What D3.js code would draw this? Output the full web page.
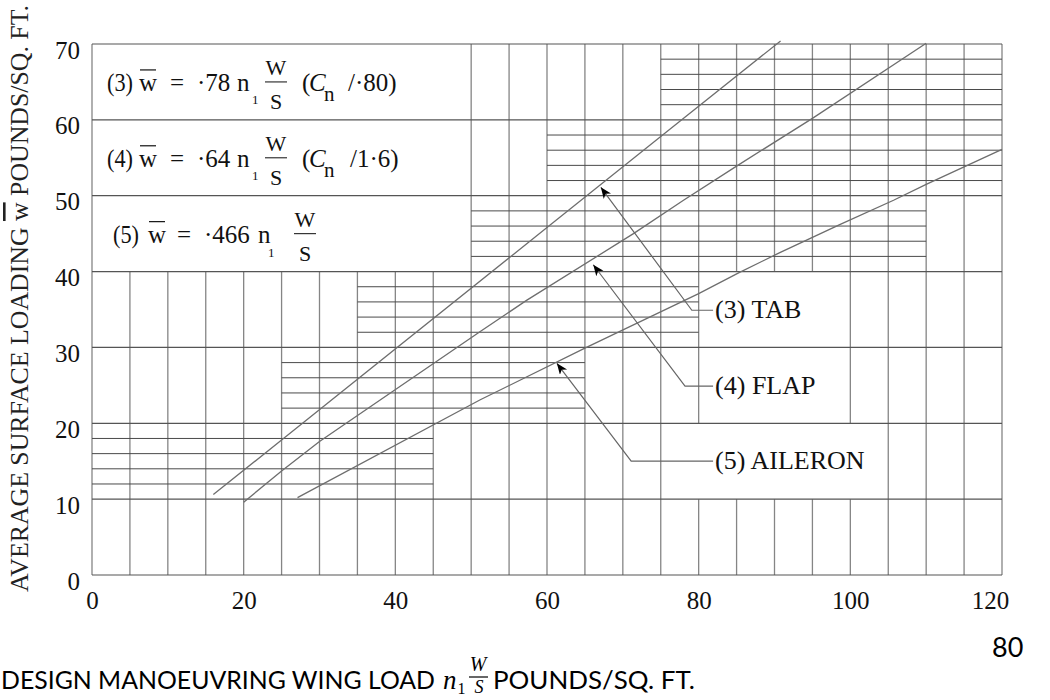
<!DOCTYPE html>
<html>
<head>
<meta charset="utf-8">
<script src="https://cdn.jsdelivr.net/npm/d3@7"></script>
<style>
  html, body { margin: 0; padding: 0; background: #ffffff; }
  svg { display: block; }
</style>
</head>
<body>
<svg id="chart" width="1050" height="700"></svg>
<script>
// ---------------- DATA ----------------
const xTickValues = [0, 20, 40, 60, 80, 100, 120];
const yTickValues = [0, 10, 20, 30, 40, 50, 60, 70];
const verticalGridStep = 5;
const hatchStep = 2;

// hatched blocks (horizontal sub-lines every 2 units)
const hatchX0 = [0, 25, 35, 50, 60, 75];
const hatchX1 = [45, 65, 80, 110, 120, 120];
const hatchY0 = [10, 20, 30, 40, 50, 60];

// blank boxes (no inner vertical grid lines): formula box and label boxes
const blankX0 = [0, 80, 80, 75];
const blankX1 = [50, 100, 100, 105];
const blankY0 = [40, 30, 20, 10];
const blankY1 = [70, 40, 30, 20];

// curves: [n1 W/S, w]
const tabCurve = [[16, 10.6], [25, 17.8], [60, 45.8], [75, 57.8], [90.8, 70.4]];
const flapCurve = [[20, 9.6], [25, 13.7], [30, 17.6], [51.2, 32.1], [57.3, 36.2], [71.4, 45.0], [78, 49.4], [85, 53.9], [95, 60.2], [110, 70.1]];
const aileronCurve = [[27.1, 10.2], [51.2, 23.1], [65, 29.9], [80, 37.1], [85.2, 39.8], [90.7, 42.5], [98.6, 46.2], [105.7, 49.4], [110, 51.5], [120, 56.1]];

// leader lines for labels
const leaderNames = ["(3) TAB", "(4) FLAP", "(5) AILERON"];
const leaderTab = [[67.1, 51.1], [79.1, 34.9], [81.9, 34.9]];
const leaderFlap = [[66.1, 40.9], [78.2, 24.9], [81.9, 24.9]];
const leaderAileron = [[61.3, 27.9], [71.1, 15.0], [81.9, 15.0]];

// ---------------- SETUP ----------------
const svg = d3.select("#chart");
const x = d3.scaleLinear().domain([0, 120]).range([92, 1002]);
const y = d3.scaleLinear().domain([0, 70]).range([575, 44]);

const serif = "'Liberation Serif', 'Times New Roman', serif";
const sans = "Lato, 'Open Sans', sans-serif";

// ---------------- GRID ----------------
const grid = svg.append("g");

// vertical lines, interrupted in blank boxes
const bands = d3.range(0, 70, 10);
const vSegs = [];
d3.range(0, 121, verticalGridStep).forEach(xv => {
  let start = null;
  bands.forEach(b => {
    const hidden = blankX0.some((bx0, k) =>
      xv > bx0 && xv < blankX1[k] && b >= blankY0[k] && b + 10 <= blankY1[k]);
    if (!hidden && start === null) start = b;
    if (hidden && start !== null) { vSegs.push({x: xv, y0: start, y1: b}); start = null; }
  });
  if (start !== null) vSegs.push({x: xv, y0: start, y1: 70});
});
grid.selectAll("line.v").data(vSegs).enter().append("line")
  .attr("class", "v")
  .attr("x1", d => x(d.x)).attr("x2", d => x(d.x))
  .attr("y1", d => y(d.y0)).attr("y2", d => y(d.y1))
  .attr("stroke", "#858585").attr("stroke-width", 1.3);

// sub lines in hatched blocks
const subSegs = [];
hatchY0.forEach((hy, i) => {
  d3.range(hy + hatchStep, hy + 10, hatchStep).forEach(yy => {
    subSegs.push({x0: hatchX0[i], x1: hatchX1[i], y: yy});
  });
});
grid.selectAll("line.s").data(subSegs).enter().append("line")
  .attr("class", "s")
  .attr("x1", d => x(d.x0)).attr("x2", d => x(d.x1))
  .attr("y1", d => y(d.y)).attr("y2", d => y(d.y))
  .attr("stroke", "#4a4a4a").attr("stroke-width", 1);

// major horizontal lines
grid.selectAll("line.h").data(yTickValues).enter().append("line")
  .attr("class", "h")
  .attr("x1", x(0)).attr("x2", x(120))
  .attr("y1", d => y(d)).attr("y2", d => y(d))
  .attr("stroke", "#555").attr("stroke-width", 1.2);

// ---------------- CURVES ----------------
const line = d3.line().x(d => x(d[0])).y(d => y(d[1]));
[tabCurve, flapCurve, aileronCurve].forEach(c => {
  svg.append("path").datum(c).attr("d", line)
    .attr("fill", "none").attr("stroke", "#6e6e6e").attr("stroke-width", 1.3);
});

// ---------------- LEADERS ----------------
const defs = svg.append("defs");
defs.append("marker").attr("id", "arr")
  .attr("markerUnits", "userSpaceOnUse")
  .attr("markerWidth", 14).attr("markerHeight", 12)
  .attr("refX", 11).attr("refY", 4.5)
  .attr("orient", "auto-start-reverse")
  .append("path").attr("d", "M0,0 L11,4.5 L0,9 L3,4.5 Z").attr("fill", "#000");

[leaderTab, leaderFlap, leaderAileron].forEach((pts, i) => {
  svg.append("path").datum(pts).attr("d", line)
    .attr("fill", "none").attr("stroke", "#666").attr("stroke-width", 1.2)
    .attr("marker-start", "url(#arr)");
  const end = pts[pts.length - 1];
  svg.append("text")
    .attr("x", x(end[0]) + 2).attr("y", y(end[1]) + 8)
    .attr("font-family", serif).attr("font-size", 26).attr("fill", "#111")
    .text(leaderNames[i]);
});

// ---------------- FORMULAS ----------------
const formulas = [
  {c: y(65), lab: "(3)", lx: 107, wx: 139, ex: 170, coef: "·78", cx: 197, nx: 237, sx: 252, sdy: 13, fx: 276, tail: true, tailTxt: "/·80)", tailx: 348},
  {c: y(55), lab: "(4)", lx: 107, wx: 139, ex: 170, coef: "·64", cx: 197, nx: 237, sx: 252, sdy: 13, fx: 276, tail: true, tailTxt: "/1·6)", tailx: 350},
  {c: y(45), lab: "(5)", lx: 113, wx: 148, ex: 177, coef: "·466", cx: 204, nx: 258, sx: 268, sdy: 14, fx: 305, tail: false}
];
const fs = 25;
const fg = svg.append("g").attr("font-family", serif).attr("fill", "#111");
formulas.forEach(f => {
  const base = f.c + 9;
  fg.append("text").attr("x", f.lx).attr("y", base).attr("font-size", fs)
    .attr("textLength", 26).attr("lengthAdjust", "spacingAndGlyphs").text(f.lab);
  fg.append("text").attr("x", f.wx).attr("y", base).attr("font-size", fs).text("w");
  fg.append("line").attr("x1", f.wx + 1).attr("x2", f.wx + 17).attr("y1", base - 21).attr("y2", base - 21)
    .attr("stroke", "#111").attr("stroke-width", 1.2);
  fg.append("text").attr("x", f.ex).attr("y", base).attr("font-size", fs).text("=");
  fg.append("text").attr("x", f.cx).attr("y", base).attr("font-size", fs).text(f.coef);
  fg.append("text").attr("x", f.nx).attr("y", base).attr("font-size", fs).text("n");
  fg.append("text").attr("x", f.sx).attr("y", base + f.sdy).attr("font-size", 13).text("1");
  fg.append("text").attr("x", f.fx).attr("y", f.c - 7).attr("font-size", 22).attr("text-anchor", "middle").text("W");
  fg.append("line").attr("x1", f.fx - 11).attr("x2", f.fx + 11).attr("y1", f.c).attr("y2", f.c)
    .attr("stroke", "#222").attr("stroke-width", 1.1);
  fg.append("text").attr("x", f.fx).attr("y", f.c + 27).attr("font-size", 22).attr("text-anchor", "middle").text("S");
  if (f.tail) {
    fg.append("text").attr("x", 302).attr("y", base).attr("font-size", fs).text("(");
    fg.append("text").attr("x", 309).attr("y", base).attr("font-size", fs).attr("font-style", "italic").text("C");
    fg.append("text").attr("x", 324).attr("y", base + 10).attr("font-size", 21).text("n");
    fg.append("text").attr("x", f.tailx).attr("y", base).attr("font-size", fs).text(f.tailTxt);
  }
});

// ---------------- AXES LABELS ----------------
const yAxis = d3.axisLeft(y).tickValues(yTickValues).tickSize(0).tickPadding(12).tickFormat(d3.format("d"));
const ya = svg.append("g").attr("transform", `translate(${x(0)},0)`).call(yAxis);
ya.select(".domain").remove();
ya.selectAll("text").attr("font-family", serif).attr("font-size", 25).attr("fill", "#111").attr("y", 6);

const xAxis = d3.axisBottom(x).tickValues(xTickValues).tickSize(0).tickPadding(16).tickFormat(d3.format("d"));
const xa = svg.append("g").attr("transform", `translate(0,${y(0)})`).call(xAxis);
xa.select(".domain").remove();
xa.selectAll("text").attr("font-family", serif).attr("font-size", 25).attr("fill", "#111")
  .attr("dx", d => d === 120 ? -12 : 0);

// y axis title
const yt = svg.append("text")
  .attr("transform", "translate(28,592) rotate(-90)")
  .attr("font-family", serif).attr("font-size", 26).attr("fill", "#222")
  .attr("textLength", 587).attr("lengthAdjust", "spacingAndGlyphs");
yt.append("tspan").text("AVERAGE SURFACE LOADING ");
yt.append("tspan").style("text-decoration", "overline").text("w");
yt.append("tspan").text(" POUNDS/SQ. FT.");

// page number
svg.append("text").attr("x", 992).attr("y", 657)
  .attr("font-family", sans).attr("font-size", 27).attr("fill", "#000").text("80");

// x axis title
const xg = svg.append("g").attr("fill", "#000");
xg.append("text").attr("x", 1).attr("y", 689)
  .attr("font-family", sans).attr("font-size", 24.5)
  .attr("textLength", 434).attr("lengthAdjust", "spacingAndGlyphs")
  .text("DESIGN MANOEUVRING WING LOAD");
const nt = xg.append("text").attr("x", 443).attr("y", 689).attr("font-family", serif);
nt.append("tspan").attr("font-style", "italic").attr("font-size", 27).text("n");
nt.append("tspan").attr("font-size", 16).attr("dx", 1).attr("dy", 5).text("1");
xg.append("text").attr("x", 478).attr("y", 671).attr("text-anchor", "middle")
  .attr("font-family", serif).attr("font-style", "italic").attr("font-size", 20).text("W");
xg.append("line").attr("x1", 469).attr("x2", 488).attr("y1", 677).attr("y2", 677)
  .attr("stroke", "#000").attr("stroke-width", 1.2);
xg.append("text").attr("x", 479).attr("y", 693).attr("text-anchor", "middle")
  .attr("font-family", serif).attr("font-style", "italic").attr("font-size", 18).text("S");
xg.append("text").attr("x", 493).attr("y", 689)
  .attr("font-family", sans).attr("font-size", 24.5)
  .attr("textLength", 202).attr("lengthAdjust", "spacingAndGlyphs")
  .text("POUNDS/SQ. FT.");
</script>
</body>
</html>
